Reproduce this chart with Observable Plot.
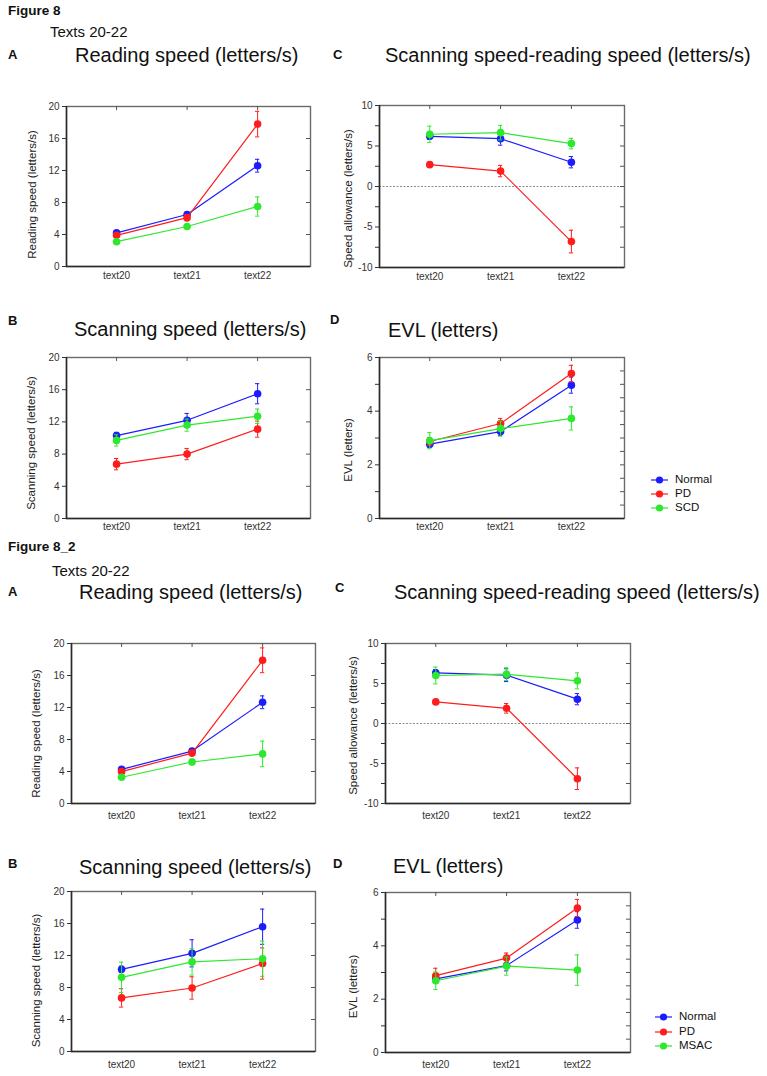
<!DOCTYPE html>
<html><head><meta charset="utf-8">
<script src="https://cdn.jsdelivr.net/npm/d3@7"></script>
<script src="https://cdn.jsdelivr.net/npm/@observablehq/plot@0.6"></script>
<style>
body{margin:0;background:#fff;}
#root{position:relative;width:767px;height:1076px;overflow:hidden;font-family:"Liberation Sans",Arial,sans-serif;color:#111;}
.t{position:absolute;white-space:nowrap;line-height:1;}
.p{position:absolute;}
</style></head><body><div id="root"></div>
<script>
// ---------- data ----------
const texts = ["text20", "text21", "text22"];
const groupsF8 = ["Normal", "PD", "SCD"];
const groupsF82 = ["Normal", "PD", "MSAC"];
const colors = ["#1c1cff", "#ff1c1c", "#2ee82e"];

// Figure 8
const f8ReadMean  = [[4.2, 6.5, 12.6], [3.9, 6.1, 17.8], [3.1, 5.0, 7.5]];
const f8ReadErr   = [[0.2, 0.3, 0.8], [0.3, 0.4, 1.6], [0.2, 0.2, 1.2]];
const f8AllowMean = [[6.2, 5.9, 3.0], [2.7, 1.9, -6.8], [6.45, 6.65, 5.3]];
const f8AllowErr  = [[0.4, 0.8, 0.7], [0.3, 0.7, 1.4], [1.0, 0.9, 0.65]];
const f8ScanMean  = [[10.3, 12.2, 15.5], [6.75, 8.0, 11.1], [9.7, 11.6, 12.7]];
const f8ScanErr   = [[0.4, 0.85, 1.25], [0.7, 0.7, 1.0], [0.7, 0.75, 0.9]];
const f8EvlMean   = [[2.77, 3.24, 4.97], [2.87, 3.54, 5.4], [2.9, 3.35, 3.73]];
const f8EvlErr    = [[0.12, 0.15, 0.3], [0.15, 0.19, 0.31], [0.3, 0.28, 0.43]];

// Figure 8_2
const f82ReadMean  = [[4.27, 6.55, 12.65], [3.98, 6.3, 17.9], [3.28, 5.19, 6.2]];
const f82ReadErr   = [[0.2, 0.3, 0.8], [0.3, 0.35, 1.55], [0.25, 0.35, 1.6]];
const f82AllowMean = [[6.33, 6.04, 3.04], [2.7, 1.9, -6.9], [6.0, 6.17, 5.33]];
const f82AllowErr  = [[0.4, 0.8, 0.7], [0.3, 0.6, 1.35], [1.05, 0.8, 1.0]];
const f82ScanMean  = [[10.27, 12.27, 15.6], [6.7, 7.94, 11.0], [9.27, 11.2, 11.6]];
const f82ScanErr   = [[0.4, 1.7, 2.2], [1.15, 1.4, 1.95], [1.9, 1.65, 2.2]];
const f82EvlMean   = [[2.76, 3.26, 4.97], [2.88, 3.54, 5.42], [2.69, 3.24, 3.09]];
const f82EvlErr    = [[0.12, 0.2, 0.31], [0.28, 0.19, 0.32], [0.33, 0.34, 0.57]];

// axis ticks
const speedTicks = [0, 4, 8, 12, 16, 20];
const speedRight = [4, 8, 12, 16];
const allowTicks = [-10, -5, 0, 5, 10];
const allowMinor = [-7.5, -2.5, 2.5, 7.5];
const evlTicks = [0, 2, 4, 6];
const evlMinor = [1, 3, 5];
const evlRight = [0.5, 1, 1.5, 2, 2.5, 3, 3.5, 4, 4.5, 5, 5.5];

// ---------- drawing ----------
const root = document.getElementById("root");
const FONT = '"Liberation Sans", Arial, sans-serif';

function addText(str, x, top, size, weight) {
  const d = document.createElement("div");
  d.className = "t";
  d.textContent = str;
  d.style.left = x + "px";
  d.style.top = top + "px";
  d.style.fontSize = size + "px";
  if (weight) d.style.fontWeight = weight;
  root.appendChild(d);
}

function panel(o) {
  const mL = 60, mR = 6, mT = 6, mB = 28;
  const pw = o.x1 - o.x0, ph = o.y1 - o.y0;
  const xDom = [-0.71, 2.75];
  const rows = [];
  o.groups.forEach((g, gi) => texts.forEach((t, ti) =>
    rows.push({g, gi, x: ti, y: o.mean[gi][ti], e: o.err[gi][ti]})));
  const marks = [];
  if (o.zero) marks.push(Plot.ruleY([0], {stroke: "#8c8c8c", strokeWidth: 1, strokeDasharray: "2,1.5"}));
  marks.push(Plot.frame({stroke: "#6a6a6a", strokeWidth: 1.4}));
  marks.push(Plot.ruleX([xDom[0]], {stroke: "#2a2a2a", strokeWidth: 1.5}));
  marks.push(Plot.ruleY([o.yDomain[0]], {stroke: "#2a2a2a", strokeWidth: 1.5}));
  marks.push(Plot.tickY(o.right, {y: d => d, insetLeft: pw - 4, stroke: "#555"}));
  marks.push(Plot.tickX([0, 1, 2], {x: d => d, insetBottom: ph - 4, stroke: "#555"}));
  marks.push(Plot.axisY(o.yTicks, {tickSize: 4, tickPadding: 3, label: null, tickFormat: d => String(d), fontSize: 10}));
  if (o.yMinor) marks.push(Plot.axisY(o.yMinor, {tickSize: 4, label: null, tickFormat: () => ""}));
  marks.push(Plot.axisX([0, 1, 2], {tickSize: 0, tickPadding: o.xPad, label: null, tickFormat: i => texts[i], fontSize: 10}));
  marks.push(Plot.text([o.label], {text: d => d, frameAnchor: "left", rotate: -90, dx: -o.lOff, dy: o.lDy, fontSize: 11.5, fill: "#222", textAnchor: "middle"}));
  o.groups.forEach((g, gi) => {
    const d = rows.filter(r => r.gi === gi);
    const c = colors[gi];
    marks.push(Plot.line(d, {x: "x", y: "y", stroke: c, strokeWidth: 1.2}));
    marks.push(Plot.ruleX(d, {x: "x", y1: r => r.y - r.e, y2: r => r.y + r.e, stroke: c, strokeWidth: 1}));
    marks.push(Plot.ruleY(d, {y: r => r.y + r.e, x1: r => r.x - 0.03, x2: r => r.x + 0.03, stroke: c, strokeWidth: 1}));
    marks.push(Plot.ruleY(d, {y: r => r.y - r.e, x1: r => r.x - 0.03, x2: r => r.x + 0.03, stroke: c, strokeWidth: 1}));
    marks.push(Plot.dot(d, {x: "x", y: "y", r: 3.8, fill: c}));
  });
  const svg = Plot.plot({
    width: pw + mL + mR, height: ph + mT + mB,
    marginLeft: mL, marginRight: mR, marginTop: mT, marginBottom: mB,
    x: {type: "linear", domain: xDom, label: null},
    y: {type: "linear", domain: o.yDomain, label: null},
    style: {fontFamily: FONT, fontSize: "10px", color: "#333", background: "transparent", overflow: "visible"},
    marks
  });
  svg.classList.add("p");
  svg.style.left = (o.x0 - mL) + "px";
  svg.style.top = (o.y0 - mT) + "px";
  svg.style.position = "absolute";
  root.appendChild(svg);
}

const speedLbl = "Reading speed (letters/s)";
// Figure 8 panels
panel({x0: 66, x1: 310, y0: 106, y1: 266, groups: groupsF8, mean: f8ReadMean, err: f8ReadErr,
  yDomain: [0, 20], yTicks: speedTicks, right: speedRight, label: "Reading speed (letters/s)", lOff: 34, lDy: 8, xPad: 5});
panel({x0: 379, x1: 624, y0: 105, y1: 267, groups: groupsF8, mean: f8AllowMean, err: f8AllowErr, zero: true,
  yDomain: [-10, 10], yTicks: allowTicks, yMinor: allowMinor, right: allowMinor.concat([-5, 0, 5]), label: "Speed allowance (letters/s)", lOff: 31, lDy: 12, xPad: 5});
panel({x0: 66, x1: 310, y0: 357, y1: 518, groups: groupsF8, mean: f8ScanMean, err: f8ScanErr,
  yDomain: [0, 20], yTicks: speedTicks, right: speedRight, label: "Scanning speed (letters/s)", lOff: 35, lDy: 5, xPad: 4});
panel({x0: 379, x1: 624, y0: 357, y1: 518, groups: groupsF8, mean: f8EvlMean, err: f8EvlErr,
  yDomain: [0, 6], yTicks: evlTicks, yMinor: evlMinor, right: evlRight, label: "EVL (letters)", lOff: 31, lDy: 12, xPad: 4});
// Figure 8_2 panels
panel({x0: 71, x1: 315, y0: 643, y1: 803, groups: groupsF82, mean: f82ReadMean, err: f82ReadErr,
  yDomain: [0, 20], yTicks: speedTicks, right: speedRight, label: "Reading speed (letters/s)", lOff: 35, lDy: 10, xPad: 8});
panel({x0: 385, x1: 630, y0: 643, y1: 803, groups: groupsF82, mean: f82AllowMean, err: f82AllowErr, zero: true,
  yDomain: [-10, 10], yTicks: allowTicks, yMinor: allowMinor, right: allowMinor.concat([-5, 0, 5]), label: "Speed allowance (letters/s)", lOff: 32, lDy: 2, xPad: 8});
panel({x0: 71, x1: 315, y0: 891, y1: 1051, groups: groupsF82, mean: f82ScanMean, err: f82ScanErr,
  yDomain: [0, 20], yTicks: speedTicks, right: speedRight, label: "Scanning speed (letters/s)", lOff: 35, lDy: 9, xPad: 9});
panel({x0: 385, x1: 630, y0: 892, y1: 1052, groups: groupsF82, mean: f82EvlMean, err: f82EvlErr,
  yDomain: [0, 6], yTicks: evlTicks, yMinor: evlMinor, right: evlRight, label: "EVL (letters)", lOff: 32, lDy: 14, xPad: 8});

// ---------- texts ----------
addText("Figure 8", 8, 4, 13.5, "bold");
addText("Texts 20-22", 50, 24, 15);
addText("A", 8, 48, 13, "bold");
addText("Reading speed (letters/s)", 75, 45, 20);
addText("C", 333, 48, 13, "bold");
addText("Scanning speed-reading speed (letters/s)", 385, 45, 20);
addText("B", 8, 314, 13, "bold");
addText("Scanning speed (letters/s)", 74, 319, 20);
addText("D", 330, 313, 13, "bold");
addText("EVL (letters)", 388, 320, 20);

addText("Figure 8_2", 8, 540, 13.5, "bold");
addText("Texts 20-22", 52, 563, 15);
addText("A", 8, 585, 13, "bold");
addText("Reading speed (letters/s)", 79, 582, 20);
addText("C", 335, 581, 13, "bold");
addText("Scanning speed-reading speed (letters/s)", 394, 582, 20);
addText("B", 8, 857, 13, "bold");
addText("Scanning speed (letters/s)", 79, 857, 20);
addText("D", 333, 857, 13, "bold");
addText("EVL (letters)", 393, 856, 20);

// ---------- legends ----------
function legend(groups, x, ys) {
  groups.forEach((g, i) => {
    const s = document.createElementNS("http://www.w3.org/2000/svg", "svg");
    s.setAttribute("width", 20); s.setAttribute("height", 10);
    s.style.position = "absolute";
    s.style.left = (x - 1) + "px"; s.style.top = (ys[i] - 5) + "px";
    s.innerHTML = `<line x1="1" y1="5" x2="18" y2="5" stroke="${colors[i]}" stroke-width="1.2"/><circle cx="9.5" cy="5" r="3.6" fill="${colors[i]}"/>`;
    root.appendChild(s);
    addText(g, x + 24, ys[i] - 5.6, 11.5);
  });
}
legend(groupsF8, 651, [480, 493.5, 507.5]);
legend(groupsF82, 655, [1017, 1032, 1046]);
</script></body></html>
